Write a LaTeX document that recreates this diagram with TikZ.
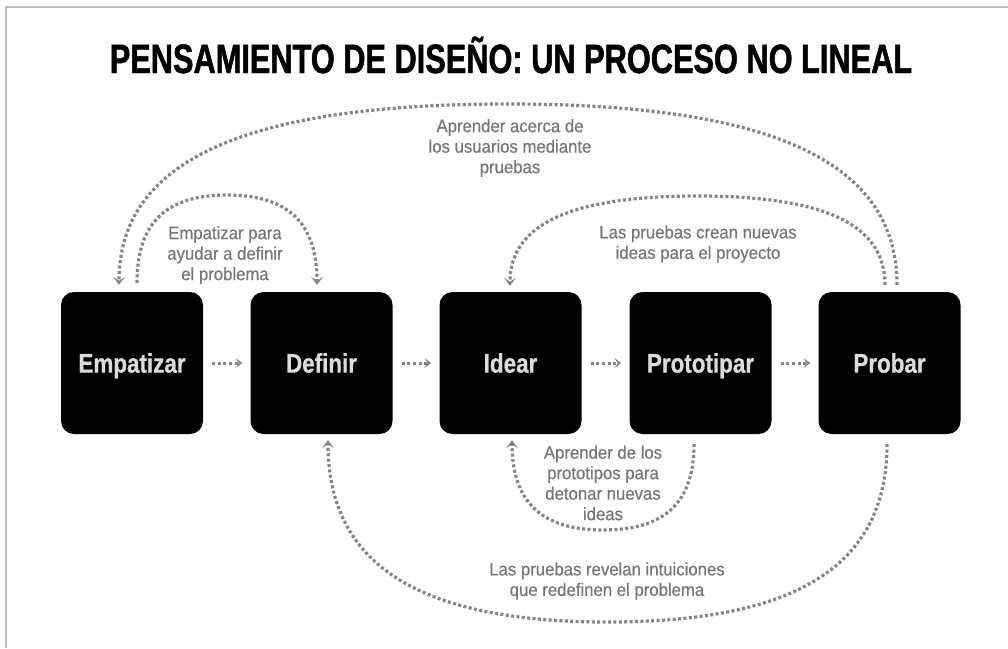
\documentclass[tikz,border=0pt]{standalone}
\usepackage{fontspec}
\setmainfont{Liberation Sans}
\newfontfamily\titlefont{Liberation Sans}[FakeStretch=0.75,FakeBold=1.2]
\newfontfamily\boxfont{Liberation Sans}[FakeStretch=0.83,FakeBold=0.6]
\newfontfamily\lblfont{Liberation Sans}[FakeStretch=0.93,FakeBold=0.5]
\usetikzlibrary{arrows.meta,calc}
\definecolor{linegray}{HTML}{858585}
\definecolor{txtgray}{HTML}{777777}
\definecolor{boxtxt}{HTML}{DCDCDC}
\definecolor{framegray}{HTML}{BDBDBD}
\begin{document}
\begin{tikzpicture}[x=1pt,y=-1pt,
  stepbox/.style={fill=black, rounded corners=13pt, minimum width=142pt, minimum height=142pt,
    inner sep=0pt, text=boxtxt, text height=19.3pt, text depth=0pt,
    font=\boxfont\bfseries\fontsize{27}{30}\selectfont},
  lbl/.style={text=txtgray, align=center, inner sep=0pt,
    font=\lblfont\fontsize{18}{20.5}\selectfont},
  flow/.style={draw=linegray, line width=3.2pt, dash pattern=on 3pt off 2.4pt,
    -{Stealth[length=8pt,width=12pt,inset=4pt]}},
  fwd/.style={draw=linegray, line width=3pt, dash pattern=on 3pt off 2.6pt,
    -{Stealth[length=7pt,width=10pt,inset=3.5pt]}}
]
\useasboundingbox (0,0) rectangle (1008,648);
\draw[framegray, line width=2pt] (6,648) -- (6,7) -- (1008,7);

\node[font=\titlefont\bfseries\fontsize{41}{45}\selectfont, anchor=base, inner sep=0pt] (title) at (511,73)
  {PENSAMIENTO DE DISEÑO: UN PROCESO NO LINEAL};

\node[stepbox] (emp) at (132,363) {Empatizar};
\node[stepbox] (def) at (321.5,363) {Definir};
\node[stepbox] (ide) at (510.5,363) {Idear};
\node[stepbox] (pro) at (700.5,363) {Prototipar};
\node[stepbox] (prb) at (889.5,363) {Probar};

\draw[fwd] ($(emp.east)+(9,0)$) -- ($(def.west)+(-8,0)$);
\draw[fwd] ($(def.east)+(9,0)$) -- ($(ide.west)+(-8,0)$);
\draw[fwd] ($(ide.east)+(9,0)$) -- ($(pro.west)+(-8,0)$);
\draw[fwd] ($(pro.east)+(9,0)$) -- ($(prb.west)+(-8,0)$);

% top arcs
\coordinate (a1s) at ($(emp.north)+(5,-9)$);
\coordinate (a1p) at (227,195);
\coordinate (a1e) at ($(def.north)+(-4.5,-7)$);
\draw[flow] (a1s) .. controls (137,223.2) and (165.8,195) .. (a1p)
  .. controls (288.2,195) and (317,223.2) .. (a1e);

\coordinate (a2s) at ($(prb.north)+(7.5,-7)$);
\coordinate (a2p) at (508,104);
\coordinate (a2e) at ($(emp.north)+(-13,-7)$);
\draw[flow] (a2s) .. controls (897,162) and (772.5,104) .. (a2p)
  .. controls (243.5,104) and (119,161.3) .. (a2e);

\coordinate (a3s) at ($(prb.north)+(-4.5,-7)$);
\coordinate (a3p) at (697.5,196);
\coordinate (a3e) at ($(ide.north)+(-0.5,-6)$);
\draw[flow] (a3s) .. controls (885,224.5) and (825,196) .. (a3p)
  .. controls (570,196) and (510,224.5) .. (a3e);

% bottom arcs
\coordinate (b1s) at ($(pro.south)+(-6.5,10)$);
\coordinate (b1p) at (603,530);
\coordinate (b1e) at ($(ide.south)+(1.5,6)$);
\draw[flow] (b1s) .. controls (694,502.5) and (664.9,530) .. (b1p)
  .. controls (541.1,530) and (512,501.5) .. (b1e);

\coordinate (b2s) at ($(prb.south)+(-2.5,10)$);
\coordinate (b2p) at (607.5,622);
\coordinate (b2e) at ($(def.south)+(6.5,6)$);
\draw[flow] (b2s) .. controls (887,565) and (797.5,622) .. (b2p)
  .. controls (417.5,622) and (328,564) .. (b2e);

% labels
\node[lbl] (l1) at (225,255) {Empatizar para\\ayudar a definir\\el problema};
\node[lbl] (l2) at (510,148) {Aprender acerca de\\los usuarios mediante\\pruebas};
\node[lbl] (l3) at (698,244) {Las pruebas crean nuevas\\ideas para el proyecto};
\node[lbl] (l4) at (603,483) {Aprender de los\\prototipos para\\detonar nuevas\\ideas};
\node[lbl] (l5) at (607,581) {Las pruebas revelan intuiciones\\que redefinen el problema};
\end{tikzpicture}
\end{document}
